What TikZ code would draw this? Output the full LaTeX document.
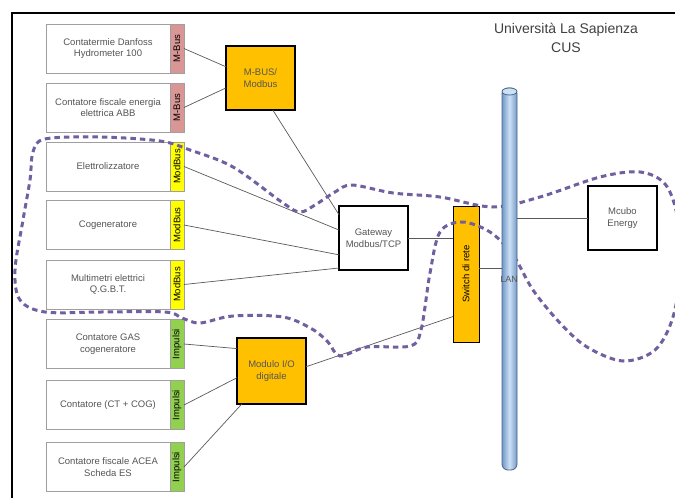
\documentclass[tikz,border=0pt]{standalone}
\usepackage{fontspec}
\setmainfont{Liberation Sans}
\usetikzlibrary{calc}
\definecolor{mbuscol}{RGB}{217,150,148}
\definecolor{modbuscol}{RGB}{255,255,0}
\definecolor{impcol}{RGB}{146,208,80}
\definecolor{boxorange}{RGB}{255,192,0}
\definecolor{zonecol}{RGB}{112,96,160}
\definecolor{pipeedge}{RGB}{70,100,140}
\definecolor{pipelight}{RGB}{205,225,245}
\definecolor{pipedark}{RGB}{115,152,198}
\definecolor{txtgray}{RGB}{85,85,85}

\begin{document}
\begin{tikzpicture}[x=1pt,y=-1pt]
\tikzstyle{device}=[draw=gray!75,fill=white,outer sep=0pt,inner sep=1pt,minimum width=124pt,minimum height=49pt,align=center,font=\fontsize{9.5}{11.5}\selectfont,text=txtgray]
\tikzstyle{tag}=[draw=gray!75,outer sep=0pt,inner sep=0pt,minimum width=14pt,minimum height=49pt,font=\fontsize{9.5}{11}\selectfont]
\tikzstyle{conv}=[draw,line width=2pt,fill=boxorange,outer sep=0pt,minimum width=69pt,minimum height=64pt,align=center,font=\fontsize{9.5}{11.5}\selectfont,text=txtgray]
\tikzstyle{plain}=[draw,line width=1.6pt,fill=white,outer sep=0pt,minimum width=69pt,minimum height=64pt,align=center,font=\fontsize{9.5}{11.5}\selectfont,text=txtgray]
\tikzstyle{wire}=[draw=gray!70!black,line width=0.7pt]
\tikzstyle{zone}=[draw=zonecol,line width=3pt,dash pattern=on 5.5pt off 4pt]

\useasboundingbox (0,0) rectangle (675,498);
\draw [line width=2pt] (12,498) -- (12,13) -- (675,13);

\node (title) [align=center,font=\fontsize{14}{19}\selectfont,text=black!75] at (566,38) {Università La Sapienza\\CUS};

% field devices
\node (dev1) [device] at (108,48.5) {Contatermie Danfoss\\Hydrometer 100};
\node (tag1) [tag,fill=mbuscol] at (177,48.5) {\rotatebox{90}{M-Bus}};
\node (dev2) [device] at (108,107.5) {Contatore fiscale energia\\elettrica ABB};
\node (tag2) [tag,fill=mbuscol] at (177,107.5) {\rotatebox{90}{M-Bus}};
\node (dev3) [device] at (108,166.5) {Elettrolizzatore};
\node (tag3) [tag,fill=modbuscol] at (177,166.5) {\rotatebox{90}{ModBus}};
\node (dev4) [device] at (108,225) {Cogeneratore};
\node (tag4) [tag,fill=modbuscol] at (177,225) {\rotatebox{90}{ModBus}};
\node (dev5) [device] at (108,284.5) {Multimetri elettrici\\Q.G.B.T.};
\node (tag5) [tag,fill=modbuscol] at (177,284.5) {\rotatebox{90}{ModBus}};
\node (dev6) [device] at (108,344) {Contatore GAS\\cogeneratore};
\node (tag6) [tag,fill=impcol] at (177,344) {\rotatebox{90}{Impulsi}};
\node (dev7) [device] at (108,405) {Contatore (CT + COG)};
\node (tag7) [tag,fill=impcol] at (177,405) {\rotatebox{90}{Impulsi}};
\node (dev8) [device] at (108,467) {Contatore fiscale ACEA\\Scheda ES};
\node (tag8) [tag,fill=impcol] at (177,467) {\rotatebox{90}{Impulsi}};

% converters
\node (mbus) [conv] at (260.5,78) {M-BUS/\\Modbus};
\node (modulo) [conv,line width=2.4pt,minimum height=66pt] at (271.5,371) {Modulo I/O\\digitale};
\node (gateway) [plain] at (373.5,238) {Gateway\\Modbus/TCP};
\node (switch) [draw,line width=0.6pt,fill=boxorange,outer sep=0pt,minimum width=26pt,minimum height=136pt,inner sep=0pt,font=\fontsize{9.5}{11}\selectfont] at (466,274) {\rotatebox{90}{Switch di rete}};
\node (mcubo) [plain,line width=2pt] at (622.5,218) {Mcubo\\Energy};

\draw [wire] (tag1.east) -- (mbus.162);
\draw [wire] (tag2.east) -- (mbus.196);
\draw [wire] (mbus.291) -- (gateway.146);
\draw [wire] (tag3.east) -- (gateway.167);
\draw [wire] (tag4.east) -- (gateway.206);
\draw [wire] (tag5.east) -- (gateway.221);
\draw [wire] (tag6.east) -- (modulo.147);
\draw [wire] (tag7.east) -- (modulo.191);
\draw [wire] (tag8.east) -- (modulo.228);
\draw [wire] (modulo.7) -- (switch.253);
\draw [wire] (gateway.east) -- (gateway.east -| switch.west);

% area boundary
\draw [zone] plot [smooth cycle,tension=0.55] coordinates {
  (33,152) (45,139) (100,137) (160,141) (190,150) (233,167) (283,203) (300,212)
  (315,205) (335,192) (352,185) (393,193) (440,197) (493,207) (540,197) (600,177)
  (640,172) (665,184) (677,215) (681,265) (673,317) (655,350) (623,361) (587,347)
  (560,323) (533,290) (513,255) (490,232) (462,222) (440,232) (430,273) (421,330)
  (410,346) (367,347) (340,356) (328,342) (312,329) (283,317) (233,316) (200,323)
  (182,318) (165,312) (100,312) (45,312) (20,300) (15,270) (23,220) (30,180)};

% LAN backbone
\node (lan) [draw=pipeedge,line width=0.8pt,rounded corners=6pt,left color=pipedark,right color=pipedark,middle color=pipelight,outer sep=0pt,minimum width=15pt,minimum height=382pt] at (509.5,279) {};
\draw [draw=pipeedge,line width=0.8pt,fill=pipelight] (lan.north) ++(0,3.5) ellipse (7.5pt and 3.5pt);
\draw [wire] (switch.25) -- (switch.25 -| lan.west);
\draw [wire] (mcubo.west -| lan.east) -- (mcubo.west);
\node (lanlabel) [font=\fontsize{9}{10}\selectfont,text=txtgray] at (509,279) {LAN};

\end{tikzpicture}
\end{document}
